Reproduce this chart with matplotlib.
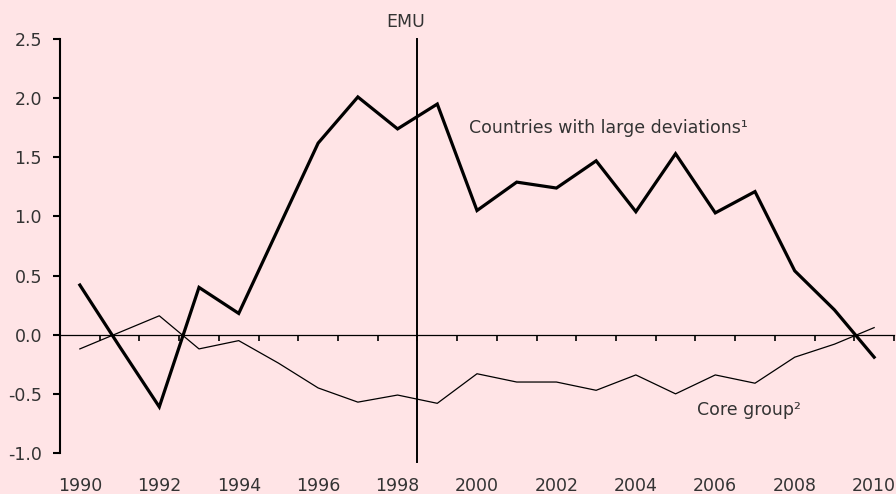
import numpy as np
import matplotlib
matplotlib.use("Agg")
import matplotlib.pyplot as plt

plt.rcParams['font.family'] = ['DejaVu Sans']

BG = '#FFE4E6'
TXT = '#333333'
FS = 12.5

years = list(range(1990, 2011))
large_dev = [0.42, -0.10, -0.61, 0.40, 0.18, 0.90, 1.62, 2.01, 1.74, 1.95,
             1.05, 1.29, 1.24, 1.47, 1.04, 1.53, 1.03, 1.21, 0.54, 0.21, -0.19]
core_group = [-0.12, 0.02, 0.16, -0.12, -0.05, -0.24, -0.45, -0.57, -0.51, -0.58,
              -0.33, -0.40, -0.40, -0.47, -0.34, -0.50, -0.34, -0.41, -0.19, -0.08, 0.06]
year_labels = list(range(1990, 2011, 2))
y_ticks = [-1.0, -0.5, 0.0, 0.5, 1.0, 1.5, 2.0, 2.5]
emu_year = 1998.5

fig = plt.figure(figsize=(8.96, 4.94), dpi=100, facecolor=BG)
ax = fig.add_axes([60 / 896, 41 / 494, 834 / 896, 414 / 494])
ax.set_facecolor(BG)

ax.plot(years, large_dev, color='black', lw=2.3, solid_joinstyle='miter')
ax.plot(years, core_group, color='black', lw=0.9)

# EMU marker line
ax.axvline(emu_year, ymin=-0.022, ymax=1, color='black', lw=1.4, clip_on=False)
ax.text(emu_year - 0.3, 2.64, 'EMU', ha='center', va='center', fontsize=FS,
        color=TXT, clip_on=False)

ax.text(1999.8, 1.75, 'Countries with large deviations\u00b9', ha='left',
        va='center', fontsize=FS, color=TXT)
ax.text(2005.55, -0.64, 'Core group\u00b2', ha='left', va='center',
        fontsize=FS, color=TXT)

ax.set_xlim(years[0] - 0.5, years[-1] + 0.5)
ax.set_ylim(-1.0, 2.5)

# spines
for s in ['top', 'right']:
    ax.spines[s].set_visible(False)
ax.spines['left'].set_linewidth(1.5)
ax.spines['bottom'].set_position(('data', 0))
ax.spines['bottom'].set_linewidth(0.9)

ax.set_yticks(y_ticks)
ax.set_yticklabels([f'{v:.1f}' for v in y_ticks])
ax.tick_params(axis='y', direction='out', length=5, width=1.5, pad=8,
               labelsize=FS, labelcolor=TXT)

# category boundary ticks on the zero line
ax.set_xticks(np.arange(years[0] - 0.5, years[-1] + 1.0, 1.0))
ax.tick_params(axis='x', direction='out', length=4, width=1.2, labelbottom=False)

# year labels along the bottom
sec = ax.secondary_xaxis(0)
sec.set_xticks(year_labels)
sec.set_xticklabels([str(y) for y in year_labels])
sec.tick_params(length=0, pad=17, labelsize=FS, labelcolor=TXT)
sec.spines['bottom'].set_visible(False)

fig.savefig('out.png', dpi=100, facecolor=BG)
